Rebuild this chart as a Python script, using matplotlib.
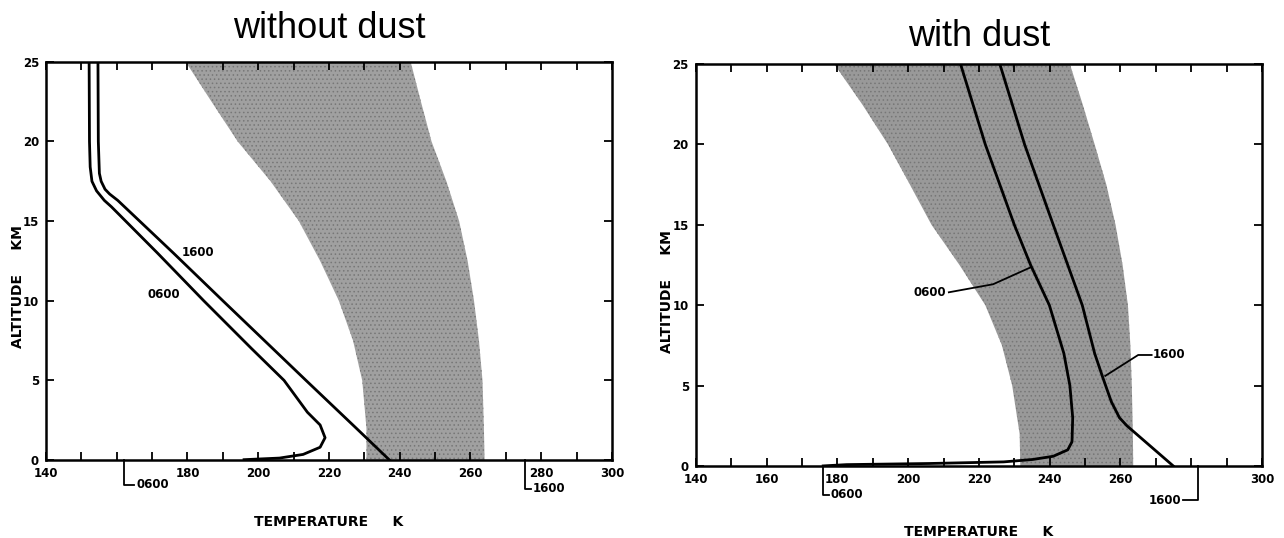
import matplotlib
matplotlib.use("Agg")
import matplotlib.pyplot as plt

plt.rcParams['hatch.color'] = '#777777'
plt.rcParams['hatch.linewidth'] = 0.6

# observed temperature range (shaded band), same altitude grid for both panels
band_alt = [0, 2, 5, 7.5, 10, 12.5, 15, 17.5, 20, 22.5, 25]
nodust_band_lo = [230.6, 230.6, 229.4, 226.8, 222.8, 217.5, 211.5, 203.5, 194.2, 186.8, 179.5]
nodust_band_hi = [264.0, 263.8, 263.4, 262.4, 261.0, 259.2, 256.8, 253.2, 249.0, 246.0, 243.1]
dust_band_lo = [231.7, 231.5, 229.4, 226.5, 221.8, 214.5, 206.6, 200.5, 194.3, 187.0, 179.1]
dust_band_hi = [263.6, 263.5, 263.2, 262.8, 262.1, 260.6, 258.6, 256.0, 252.7, 249.3, 245.7]

# model profiles, without dust
nd06_alt = [25, 20, 18.4, 17.5, 16.9, 16.3, 15.9, 13, 10, 7, 5, 3, 2.2, 1.4, 0.8, 0.35, 0.12, 0.02]
nd06_T = [152.2, 152.3, 152.5, 153.0, 154.3, 156.5, 158.5, 171.5, 184.6, 198.1, 207.3,
          213.9, 217.5, 218.9, 217.5, 212.7, 206.0, 196.0]
nd16_alt = [25, 20, 18, 17.5, 17, 16.7, 16.3, 13, 10, 5, 2, 0]
nd16_T = [154.7, 154.8, 155.1, 155.6, 156.7, 158.0, 160.3, 176.0, 190.0, 213.5, 227.7, 237.1]

# model profiles, with dust
d06_alt = [25, 20, 15, 12.5, 10, 7, 5, 3, 1.5, 1.0, 0.6, 0.4, 0.25, 0.15, 0.08, 0.0]
d06_T = [214.8, 221.8, 230.0, 234.6, 239.9, 244.0, 245.7, 246.5, 246.3, 245.1, 241.0,
         235.2, 227.0, 206.0, 182.6, 176.0]
d16_alt = [25, 20, 15, 10, 7, 5.5, 4, 3, 2.5, 0]
d16_T = [225.9, 232.9, 241.0, 249.2, 252.7, 255.0, 257.4, 259.7, 261.8, 274.9]

xticks = list(range(140, 301, 10))
nodust_xlabels = ['140', '', '', '', '180', '', '200', '', '220', '', '240', '', '260', '', '280', '', '300']
dust_xlabels = ['140', '', '160', '', '180', '', '200', '', '220', '', '240', '', '260', '', '', '', '300']
yticks = [0, 5, 10, 15, 20, 25]

fig = plt.figure(figsize=(12.84, 5.38), dpi=100)
ax1 = fig.add_axes([0.0358, 0.145, 0.4408, 0.740])
ax2 = fig.add_axes([0.5419, 0.134, 0.4410, 0.747])

lbl = dict(fontsize=8.5, fontweight='bold', family='DejaVu Sans')


def setup(ax, xlabels, xlab_y):
    ax.set_xlim(140, 300)
    ax.set_ylim(0, 25)
    ax.set_xticks(xticks)
    ax.set_xticklabels(xlabels, **lbl)
    ax.set_yticks(yticks)
    ax.set_yticklabels([str(v) for v in yticks], **lbl)
    ax.tick_params(direction='in', length=6, width=1.3, top=True, right=True, pad=5)
    for s in ax.spines.values():
        s.set_linewidth(1.8)
    ax.text(0.5, xlab_y, 'TEMPERATURE     K', transform=ax.transAxes,
            ha='center', va='center', fontsize=10, fontweight='bold')
    ax.text(-0.05, 0.435, 'ALTITUDE     KM', transform=ax.transAxes, rotation=90,
            ha='center', va='center', fontsize=10, fontweight='bold')


def bracket(ax, x, ybot, side, text):
    ax.plot([x, x, x + side], [0, ybot, ybot], color='black', lw=1.3, clip_on=False)
    ha = 'left' if side > 0 else 'right'
    ax.text(x + side + (0.5 if side > 0 else -0.5), ybot, text, ha=ha, va='center', **lbl)


# left panel
setup(ax1, nodust_xlabels, -0.155)
ax1.fill_betweenx(band_alt, nodust_band_lo, nodust_band_hi, facecolor='#a0a0a0',
                  edgecolor='none', hatch='....', zorder=1)
ax1.plot(nd06_T, nd06_alt, color='black', lw=2.0, zorder=3)
ax1.plot(nd16_T, nd16_alt, color='black', lw=2.0, zorder=3)
ax1.text(182.9, 13.05, '1600', ha='center', va='center', **lbl)
ax1.text(173.4, 10.4, '0600', ha='center', va='center', **lbl)
bracket(ax1, 162, -1.55, 3, '0600')
bracket(ax1, 275.5, -1.8, 1.5, '1600')
ax1.set_title('without dust', fontsize=26, family='Liberation Sans', pad=17)

# right panel
setup(ax2, dust_xlabels, -0.165)
ax2.fill_betweenx(band_alt, dust_band_lo, dust_band_hi, facecolor='#999999',
                  edgecolor='none', hatch='....', zorder=1)
ax2.plot(d06_T, d06_alt, color='black', lw=2.0, zorder=3)
ax2.plot(d16_T, d16_alt, color='black', lw=2.0, zorder=3)
ax2.text(206.0, 10.8, '0600', ha='center', va='center', **lbl)
ax2.plot([211.5, 224, 234.6], [10.8, 11.3, 12.35], color='black', lw=1.3, zorder=3)
ax2.text(273.8, 6.9, '1600', ha='center', va='center', **lbl)
ax2.plot([268.8, 265, 255.7], [6.9, 6.9, 5.6], color='black', lw=1.3, zorder=3)
bracket(ax2, 176, -1.8, 1.5, '0600')
bracket(ax2, 282, -2.15, -4.2, '1600')
ax2.set_title('with dust', fontsize=26, family='Liberation Sans', pad=13)

fig.savefig('out.png', dpi=100)
